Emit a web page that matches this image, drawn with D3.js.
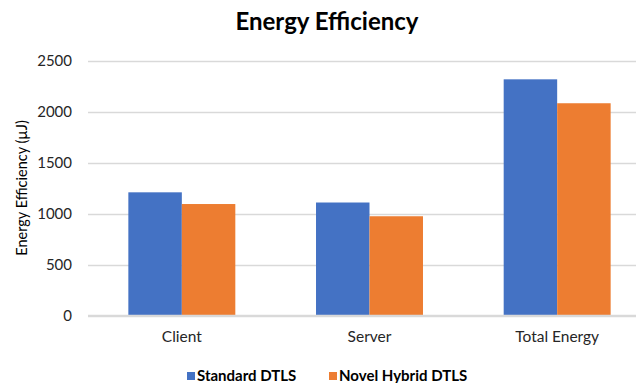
<!DOCTYPE html>
<html>
<head>
<meta charset="utf-8">
<script src="https://cdn.jsdelivr.net/npm/d3@7"></script>
<style>
  body { margin: 0; background: #fff; }
  svg { display: block; }
  text { font-family: Lato, "Open Sans", sans-serif; }
</style>
</head>
<body>
<svg id="chart" width="636" height="383"></svg>
<script>
const categories = ["Client", "Server", "Total Energy"];
const seriesNames = ["Standard DTLS", "Novel Hybrid DTLS"];
const standardDTLS = [1210, 1110, 2320];
const novelHybridDTLS = [1095, 975, 2085];
const yTicks = [0, 500, 1000, 1500, 2000, 2500];
const colors = ["#4472C4", "#ED7D31"];

const series = [standardDTLS, novelHybridDTLS];
const svg = d3.select("#chart");

const plot = { left: 88, right: 651, top: 61, bottom: 315.5 };

const x = d3.scaleBand().domain(categories).range([plot.left, plot.right]).paddingInner(0.43).paddingOuter(0.215);
const x1 = d3.scaleBand().domain(seriesNames).range([0, x.bandwidth()]);
const y = d3.scaleLinear().domain([0, 2500]).range([plot.bottom, plot.top]);

// Gridlines
svg.append("g")
  .selectAll("line")
  .data(yTicks)
  .join("line")
  .attr("x1", plot.left).attr("x2", plot.right)
  .attr("y1", d => Math.round(y(d)) + 0.5).attr("y2", d => Math.round(y(d)) + 0.5)
  .attr("stroke", "#d9d9d9").attr("stroke-width", 1.3);

// Y axis labels
const yAxis = d3.axisLeft(y).tickValues(yTicks).tickFormat(d3.format("d")).tickSize(0).tickPadding(0);
const yg = svg.append("g").attr("transform", `translate(${plot.left - 16},0)`).call(yAxis);
yg.select(".domain").remove();
yg.selectAll("text").attr("font-size", 15).attr("fill", "#262626");

// Bars
const groups = svg.append("g")
  .selectAll("g")
  .data(categories)
  .join("g")
  .attr("transform", d => `translate(${x(d)},0)`);

groups.selectAll("rect")
  .data((c, i) => seriesNames.map((s, j) => ({ s, v: series[j][i], j })))
  .join("rect")
  .attr("x", d => x1(d.s))
  .attr("width", x1.bandwidth())
  .attr("y", d => y(d.v))
  .attr("height", d => y(0) - y(d.v))
  .attr("fill", d => colors[d.j]);

// Baseline
svg.append("line")
  .attr("x1", plot.left).attr("x2", plot.right)
  .attr("y1", y(0)).attr("y2", y(0))
  .attr("stroke", "#d9d9d9").attr("stroke-width", 1.3);

// X axis labels
const xAxis = d3.axisBottom(x).tickSize(0).tickPadding(0);
const xg = svg.append("g").attr("transform", `translate(0,${plot.bottom + 15})`).call(xAxis);
xg.select(".domain").remove();
xg.selectAll("text").attr("font-size", 15.5).attr("fill", "#262626");

// Title
svg.append("text")
  .attr("x", 327).attr("y", 30)
  .attr("text-anchor", "middle")
  .attr("font-size", 24).attr("font-weight", "bold").attr("fill", "#000")
  .text("Energy Efficiency");

// Y axis title
svg.append("text")
  .attr("transform", "translate(27,188) rotate(-90)")
  .attr("text-anchor", "middle")
  .attr("font-size", 14.5).attr("fill", "#000")
  .text("Energy Efficiency (µJ)");

// Legend
const legendX = [187, 329];
const legend = svg.append("g")
  .selectAll("g")
  .data(seriesNames)
  .join("g")
  .attr("transform", (d, i) => `translate(${legendX[i]},372)`);
legend.append("rect").attr("width", 8).attr("height", 8).attr("fill", (d, i) => colors[i]);
legend.append("text")
  .attr("x", 10).attr("y", 9)
  .attr("font-size", 15).attr("font-weight", "bold").attr("fill", "#000")
  .text(d => d);
</script>
</body>
</html>
